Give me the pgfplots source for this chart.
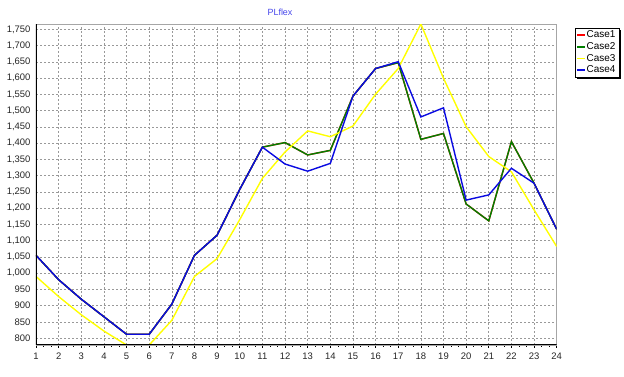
\documentclass[border=0pt]{standalone}
\usepackage{pgfplots}
\pgfplotsset{compat=1.18}
\usepackage{fontspec}
\setmainfont{Liberation Sans}
\definecolor{cgreen}{RGB}{0,128,0}
\definecolor{cyellow}{RGB}{255,255,0}
\definecolor{cblue}{RGB}{10,10,225}
\definecolor{cred}{RGB}{255,0,0}
\definecolor{ctitle}{RGB}{70,70,235}
\begin{document}
\begin{tikzpicture}
\begin{axis}[
  scale only axis,
  width=520.7bp, height=321bp,
  xmin=1, xmax=24, ymin=779, ymax=1767,
  xtick={1,...,24},
  ytick={800,850,...,1750},
  minor x tick num=2,
  grid=major,
  major grid style={draw=gray!80, dash pattern=on 2bp off 2bp, line width=0.6bp},
  axis line style={draw=gray!70, line width=0.8bp},
  tick align=outside,
  xtick pos=bottom,
  ytick pos=left,
  major tick length=3bp,
  minor tick length=2bp,
  ytick style={draw=none},
  xtick style={draw=black, line width=0.6bp},
  tick label style={font=\fontsize{9.5}{11}\selectfont, text=black!85},
  xticklabel style={yshift=-1bp},
  yticklabel style={xshift=1bp},
  /pgf/number format/.cd, 1000 sep={,}, assume math mode=true,
  /pgfplots/.cd,
  legend style={name=mylegend, at={(axis description cs:1.035,0.9875)}, anchor=north west,
    draw=none, fill=white,
    font=\fontsize{10}{12}\selectfont, inner xsep=2bp, inner ysep=2bp,
    row sep=1.5bp,
    nodes={inner xsep=1.5bp, inner ysep=0.8bp}},
  legend cell align=left,
  legend image code/.code={\fill[#1] (0bp,-0.8bp) rectangle (8bp,0.8bp);},
  every axis plot/.append style={line width=1.4bp},
]
\addlegendimage{fill=cred, draw=none}
\addlegendentry{Case1}
\addlegendimage{fill=cgreen, draw=none}
\addlegendentry{Case2}
\addlegendimage{fill=cyellow, draw=none}
\addlegendentry{Case3}
\addlegendimage{fill=cblue, draw=none}
\addlegendentry{Case4}
\addplot[cred, forget plot] coordinates {(1,1055)(2,980)(3,920)(4,866)(5,812)(6,812)(7,905)(8,1055)(9,1117)(10,1258)(11,1388)(12,1402)(13,1364)(14,1378)(15,1545)(16,1630)(17,1648)(18,1412)(19,1430)(20,1213)(21,1161)(22,1405)(23,1277)(24,1135)};
\addplot[cgreen, forget plot] coordinates {(1,1055)(2,980)(3,920)(4,866)(5,812)(6,812)(7,905)(8,1055)(9,1117)(10,1258)(11,1388)(12,1402)(13,1364)(14,1378)(15,1545)(16,1630)(17,1648)(18,1412)(19,1430)(20,1213)(21,1161)(22,1405)(23,1277)(24,1135)};
\addplot[cyellow, forget plot] coordinates {(1,990)(2,928)(3,872)(4,822)(5,779)(6,779)(7,855)(8,990)(9,1045)(10,1165)(11,1292)(12,1373)(13,1438)(14,1420)(15,1453)(16,1551)(17,1630)(18,1767)(19,1600)(20,1451)(21,1359)(22,1312)(23,1195)(24,1082)};
\addplot[cblue, forget plot] coordinates {(1,1055)(2,980)(3,920)(4,866)(5,812)(6,812)(7,905)(8,1055)(9,1117)(10,1258)(11,1388)(12,1336)(13,1314)(14,1338)(15,1545)(16,1630)(17,1651)(18,1481)(19,1509)(20,1225)(21,1241)(22,1323)(23,1277)(24,1135)};
\draw[black, line width=1.6bp] (rel axis cs:0,1) -- (rel axis cs:0,0) -- (rel axis cs:1,0);
\end{axis}
\draw[black, line width=0.6bp] (mylegend.south west) rectangle (mylegend.north east);
\fill[black] ([xshift=2bp]mylegend.south west) rectangle ([xshift=2bp,yshift=-2bp]mylegend.south east);
\fill[black] ([yshift=-2bp]mylegend.north east) rectangle ([xshift=2bp,yshift=-2bp]mylegend.south east);
\node[text=ctitle, font=\fontsize{9}{11}\selectfont] at (244bp,333bp) {PLflex};
\pgfresetboundingbox
\path (-36bp,-32bp) rectangle (588bp,345bp);
\end{tikzpicture}
\end{document}
